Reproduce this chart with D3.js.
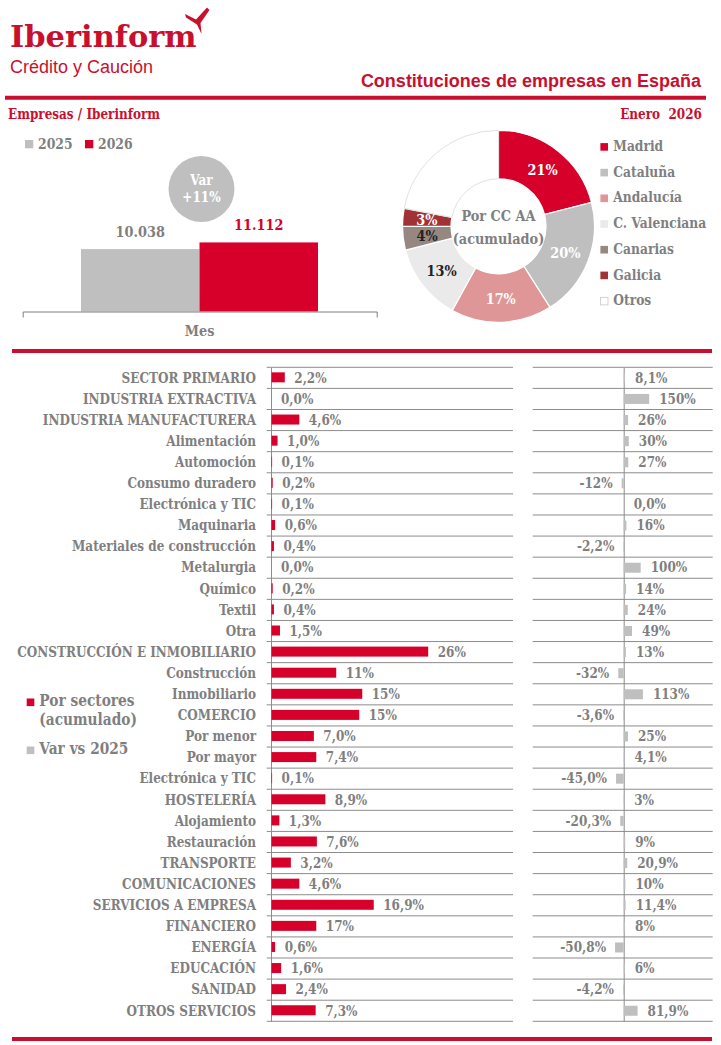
<!DOCTYPE html>
<html>
<head>
<meta charset="utf-8">
<script src="https://cdn.jsdelivr.net/npm/d3@7"></script>
<style>
  body { margin: 0; background: #fff; }
  text { font-family: "DejaVu Serif", serif; font-weight: bold; }
</style>
</head>
<body>
<svg id="chart" width="721" height="1045"></svg>
<script>
const RED = "#d6002a", LOGO = "#c8102e", GRAY = "#bfbfbf", TXT = "#7f7f7f", GRID = "#8c8c8c";
const NARROW = 0.86; // el tipo original es una slab estrecha

// total del mes
const years = ["2025", "2026"];
const monthTotals = [10038, 11112];
const monthLabels = ["10.038", "11.112"];
const varLabel = "+11%";

// por comunidades
const regions = ["Madrid", "Cataluña", "Andalucía", "C. Valenciana", "Canarias", "Galicia", "Otros"];
const regionShares = [21, 20, 17, 13, 4, 3, 22];
const regionColors = [RED, GRAY, "#de9696", "#eaeaea", "#968880", "#a03237", "#ffffff"];
const regionLabelColors = ["#fff", "#fff", "#fff", "#222", "#222", "#fff", "none"];

// por sectores
const sectors = ["SECTOR PRIMARIO", "INDUSTRIA EXTRACTIVA", "INDUSTRIA MANUFACTURERA", "Alimentación",
  "Automoción", "Consumo duradero", "Electrónica y TIC", "Maquinaria", "Materiales de construcción",
  "Metalurgia", "Químico", "Textil", "Otra", "CONSTRUCCIÓN E INMOBILIARIO", "Construcción",
  "Inmobiliario", "COMERCIO", "Por menor", "Por mayor", "Electrónica y TIC", "HOSTELERÍA",
  "Alojamiento", "Restauración", "TRANSPORTE", "COMUNICACIONES", "SERVICIOS A EMPRESA",
  "FINANCIERO", "ENERGÍA", "EDUCACIÓN", "SANIDAD", "OTROS SERVICIOS"];
const sectorShares = [2.2, 0.0, 4.6, 1.0, 0.1, 0.2, 0.1, 0.6, 0.4, 0.0, 0.2, 0.4, 1.4, 25.9, 10.7,
  15.0, 14.5, 7.0, 7.4, 0.1, 8.9, 1.3, 7.5, 3.2, 4.6, 16.9, 7.4, 0.6, 1.6, 2.4, 7.3];
const sectorShareLabels = ["2,2%", "0,0%", "4,6%", "1,0%", "0,1%", "0,2%", "0,1%", "0,6%", "0,4%",
  "0,0%", "0,2%", "0,4%", "1,5%", "26%", "11%", "15%", "15%", "7,0%", "7,4%", "0,1%", "8,9%",
  "1,3%", "7,6%", "3,2%", "4,6%", "16,9%", "17%", "0,6%", "1,6%", "2,4%", "7,3%"];
const sectorVar = [8.1, 150, 26, 30, 27, -12, 0.0, 16, -2.2, 100, 14, 24, 49, 13, -32, 113, -3.6,
  25, 4.1, -45.0, 3, -20.3, 9, 20.9, 10, 11.4, 8, -50.8, 6, -4.2, 81.9];
const sectorVarLabels = ["8,1%", "150%", "26%", "30%", "27%", "-12%", "0,0%", "16%", "-2,2%",
  "100%", "14%", "24%", "49%", "13%", "-32%", "113%", "-3,6%", "25%", "4,1%", "-45,0%", "3%",
  "-20,3%", "9%", "20,9%", "10%", "11,4%", "8%", "-50,8%", "6%", "-4,2%", "81,9%"];

const svg = d3.select("#chart");

// ---- cabecera
svg.append("text").attr("class", "wide").attr("x", 10).attr("y", 46.7)
  .style("font-size", "30.5px").attr("fill", LOGO).text("Iberinform");
svg.append("path")
  .attr("d", "M185,14 L196,19.5 L207,7.5 L209.5,10 L200.5,23 L201.5,34 L197,24.5 L186,17.5 Z")
  .attr("fill", LOGO);
svg.append("text").attr("class", "wide").attr("x", 10).attr("y", 72.7)
  .style("font-family", "Liberation Sans").style("font-weight", "normal").style("font-size", "18px")
  .attr("fill", LOGO).text("Crédito y Caución");
svg.append("text").attr("class", "wide").attr("x", 701).attr("y", 87.3).attr("text-anchor", "end")
  .style("font-family", "Liberation Sans").style("font-size", "18px")
  .attr("fill", LOGO).text("Constituciones de empresas en España");

const rules = [{ y: 97.8, x1: 5, x2: 706 }, { y: 351, x1: 12, x2: 712 }, { y: 1039, x1: 12, x2: 712 }];
svg.selectAll(".rule").data(rules).join("line").attr("class", "rule")
  .attr("x1", d => d.x1).attr("x2", d => d.x2).attr("y1", d => d.y).attr("y2", d => d.y)
  .attr("stroke", LOGO).attr("stroke-width", 4);

svg.append("text").attr("x", 8).attr("y", 119).style("font-size", "14px")
  .attr("fill", LOGO).text("Empresas / Iberinform");
svg.append("text").attr("x", 702).attr("y", 119).attr("text-anchor", "end").style("font-size", "14px")
  .attr("fill", LOGO).attr("xml:space", "preserve").text("Enero  2026");

// ---- barras del mes
const xTop = d3.scaleBand().domain(["Mes"]).range([22.7, 376.7]);
const xYear = d3.scaleBand().domain(years).range([81, 318]);
const yTop = d3.scaleLinear().domain([0, 12000]).range([311.5, 236.9]);
const yearColors = [GRAY, RED];

svg.selectAll(".mbar").data(monthTotals).join("rect").attr("class", "mbar")
  .attr("x", (d, i) => xYear(years[i]))
  .attr("y", d => yTop(d))
  .attr("width", xYear.bandwidth())
  .attr("height", d => yTop(0) - yTop(d))
  .attr("fill", (d, i) => yearColors[i]);

svg.selectAll(".mlab").data(monthTotals).join("text").attr("class", "mlab")
  .attr("x", (d, i) => xYear(years[i]) + xYear.bandwidth() / 2)
  .attr("y", d => yTop(d) - 12)
  .attr("text-anchor", "middle").style("font-size", "15px")
  .attr("fill", (d, i) => i === 0 ? TXT : RED)
  .text((d, i) => monthLabels[i]);

const gTop = svg.append("g").attr("transform", `translate(0,${yTop(0)})`)
  .call(d3.axisBottom(xTop).tickSizeInner(0).tickSizeOuter(6).tickPadding(14));
gTop.select(".domain").attr("stroke", TXT);
gTop.selectAll("text").attr("fill", TXT).style("font-family", "DejaVu Serif")
  .style("font-size", "15px").style("font-weight", "bold");

// burbuja de variación
const bub = svg.append("g").attr("transform", `translate(${xYear("2026") + 2},189)`);
bub.append("circle").attr("r", 33).attr("fill", GRAY);
bub.append("text").attr("y", -4).attr("text-anchor", "middle").style("font-size", "14px")
  .attr("fill", "#fff").text("Var");
bub.append("text").attr("y", 13).attr("text-anchor", "middle").style("font-size", "14px")
  .attr("fill", "#fff").text(varLabel);

// leyenda años
const ly = svg.selectAll(".ly").data(years).join("g").attr("class", "ly")
  .attr("transform", (d, i) => `translate(${[25, 85][i]},140)`);
ly.append("rect").attr("width", 8.3).attr("height", 8.3).attr("fill", (d, i) => yearColors[i]);
ly.append("text").attr("x", 13).attr("y", 8.5).style("font-size", "14.5px")
  .attr("fill", TXT).text(d => d);

// ---- anillo por CC AA
const pie = d3.pie().sort(null)(regionShares);
const arc = d3.arc().innerRadius(47.5).outerRadius(96);
const arcLab = d3.arc().innerRadius(72).outerRadius(72);
const gPie = svg.append("g").attr("transform", "translate(498.5,226.3)");
gPie.selectAll("path").data(pie).join("path")
  .attr("d", arc)
  .attr("fill", (d, i) => regionColors[i])
  .attr("stroke", (d, i) => i === 6 ? "#d9d9d9" : "#fff")
  .attr("stroke-width", (d, i) => i === 6 ? 0.8 : 1.2);
gPie.selectAll(".plab").data(pie).join("text").attr("class", "plab")
  .attr("x", d => arcLab.centroid(d)[0]).attr("y", d => arcLab.centroid(d)[1])
  .attr("dy", "0.36em").attr("text-anchor", "middle").style("font-size", "15px")
  .attr("fill", (d, i) => regionLabelColors[i])
  .text((d, i) => i === 6 ? "" : d.data + "%");
gPie.append("text").attr("y", -5.6).attr("text-anchor", "middle").style("font-size", "15px")
  .attr("fill", TXT).text("Por CC AA");
gPie.append("text").attr("y", 17.7).attr("text-anchor", "middle").style("font-size", "15px")
  .attr("fill", TXT).text("(acumulado)");

const lr = svg.selectAll(".lr").data(regions).join("g").attr("class", "lr")
  .attr("transform", (d, i) => `translate(600,${142.7 + i * 25.7})`);
lr.append("rect").attr("x", 0.4).attr("y", 0.4).attr("width", 7.6).attr("height", 7.6)
  .attr("fill", (d, i) => regionColors[i])
  .attr("stroke", (d, i) => i === 6 ? "#c8c8c8" : "none").attr("stroke-width", 0.8);
lr.append("text").attr("x", 13.3).attr("y", 8.3).style("font-size", "14.3px")
  .attr("fill", TXT).text(d => d);

// ---- barras por sectores
const n = sectors.length;
const rows = d3.scaleBand().domain(d3.range(n)).range([367.3, 1021.3]);
const xL = d3.scaleLinear().domain([0, 40]).range([271, 513]);
const xR = d3.scaleLinear().domain([-530, 530]).range([533.7, 713.7]);
const bh = 10;
const rowLines = d3.range(n + 1).map(i => i < n ? rows(i) : rows.range()[1]);

svg.selectAll(".gl").data(rowLines).join("line").attr("class", "gl")
  .attr("x1", 266.7).attr("x2", xL.range()[1]).attr("y1", d => d).attr("y2", d => d)
  .attr("stroke", GRID).attr("stroke-width", 1);
svg.selectAll(".gr").data(rowLines).join("line").attr("class", "gr")
  .attr("x1", xR.range()[0] - 1).attr("x2", xR.range()[1] - 1).attr("y1", d => d).attr("y2", d => d)
  .attr("stroke", GRID).attr("stroke-width", 1);

const gL = svg.append("g").attr("transform", `translate(${xL(0)},0)`)
  .call(d3.axisLeft(rows).tickSize(0).tickPadding(15).tickFormat(i => sectors[i]));
gL.select(".domain").attr("stroke", GRID);
gL.selectAll("text").attr("fill", TXT).attr("dy", "0.34em").style("font-family", "DejaVu Serif")
  .style("font-size", "14px").style("font-weight", "bold");

svg.selectAll(".sbar").data(sectorShares).join("rect").attr("class", "sbar")
  .attr("x", xL(0) + 0.5)
  .attr("y", (d, i) => rows(i) + (rows.bandwidth() - bh) / 2 - 0.5)
  .attr("width", d => Math.max(0, xL(d) - xL(0)))
  .attr("height", bh)
  .attr("fill", RED);
svg.selectAll(".slab").data(sectorShares).join("text").attr("class", "slab")
  .attr("x", d => xL(d) + 10)
  .attr("y", (d, i) => rows(i) + rows.bandwidth() / 2)
  .attr("dy", "0.34em").style("font-size", "14px").attr("fill", TXT)
  .text((d, i) => sectorShareLabels[i]);

const gR = svg.append("g").attr("transform", `translate(${xR(0)},0)`)
  .call(d3.axisLeft(rows).tickSize(0).tickFormat(""));
gR.select(".domain").attr("stroke", GRID);

svg.selectAll(".vbar").data(sectorVar).join("rect").attr("class", "vbar")
  .attr("x", d => xR(Math.min(0, d)))
  .attr("y", (d, i) => rows(i) + (rows.bandwidth() - bh) / 2)
  .attr("width", d => Math.abs(xR(d) - xR(0)))
  .attr("height", bh)
  .attr("fill", GRAY);
svg.selectAll(".vlab").data(sectorVar).join("text").attr("class", "vlab")
  .attr("x", d => d < 0 ? xR(d) - 9 : xR(d) + 10)
  .attr("text-anchor", d => d < 0 ? "end" : "start")
  .attr("y", (d, i) => rows(i) + rows.bandwidth() / 2)
  .attr("dy", "0.34em").style("font-size", "14px").attr("fill", TXT)
  .text((d, i) => sectorVarLabels[i]);

// leyenda sectores
const legS = [{ label: ["Por sectores", "(acumulado)"], color: RED, y: 698.5 },
              { label: ["Var vs 2025"], color: GRAY, y: 746.5 }];
const ls = svg.selectAll(".ls").data(legS).join("g").attr("class", "ls")
  .attr("transform", d => `translate(26.7,${d.y})`);
ls.append("rect").attr("width", 7.6).attr("height", 7.6).attr("fill", d => d.color);
ls.selectAll("text").data(d => d.label).join("text")
  .attr("x", 12.6).attr("y", (d, i) => 7.8 + i * 19).style("font-size", "16px")
  .attr("fill", TXT).text(d => d);

// estrechar los textos en slab alrededor de su punto de anclaje
svg.selectAll("text:not(.wide)").each(function () {
  const t = d3.select(this);
  const x = +t.attr("x") || 0, y = +t.attr("y") || 0;
  t.attr("transform", `translate(${x},${y}) scale(${NARROW},1) translate(${-x},${-y})`);
});
</script>
</body>
</html>
